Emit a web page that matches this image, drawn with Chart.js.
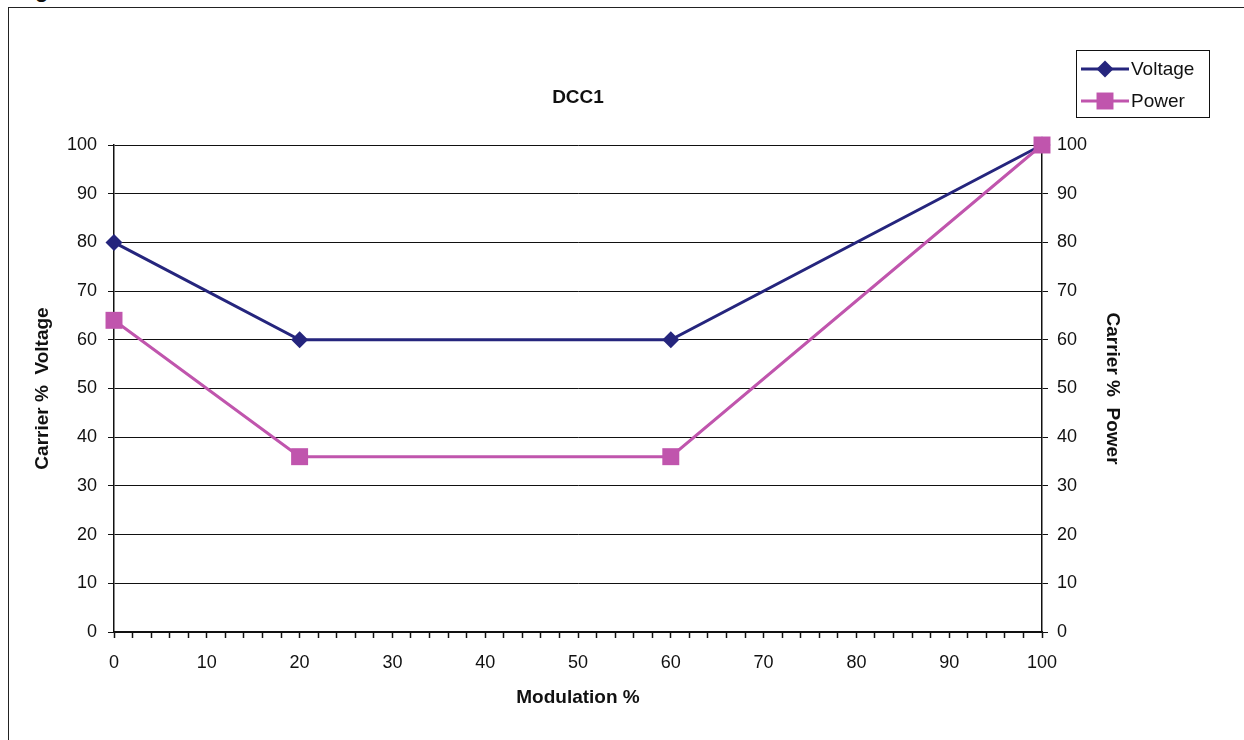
<!DOCTYPE html>
<html>
<head>
<meta charset="utf-8">
<script src="https://cdn.jsdelivr.net/npm/chart.js@4"></script>
<style>
  html, body { margin:0; padding:0; background:#fff; overflow:hidden; }
  #wrap { position:relative; width:1244px; height:740px; }
  #frame { position:absolute; left:8px; top:7px; right:0; bottom:0; border-left:1px solid #222; border-top:1px solid #222; }
  #cut { position:absolute; left:35px; top:-23px; font:bold 22px 'Liberation Sans', Arial, sans-serif; color:#111; }
  canvas { position:absolute; left:0; top:0; }
</style>
</head>
<body>
<div id="wrap">
  <div id="cut">g</div>
  <div id="frame"></div>
  <canvas id="c" width="1244" height="740"></canvas>
</div>
<script>
// chart values
const modulation = [0, 20, 60, 100];
const voltage = [80, 60, 60, 100];
const power = [64, 36, 36, 100];
const seriesNames = ['Voltage', 'Power'];
const titleText = 'DCC1';
const xTitle = 'Modulation %';
const yTitle = 'Carrier %  Voltage';
const y2Title = 'Carrier %  Power';

const FONT = "'Liberation Sans', Arial, sans-serif";
const NAVY = '#25257d';
const PINK = '#c055ad';

function pts(vals){ return modulation.map((m,i)=>({x:m, y:vals[i]})); }

// legend box drawn at a fixed spot, like the original
const boxLegend = {
  id: 'boxLegend',
  afterDraw(chart){
    const ctx = chart.ctx;
    ctx.save();
    ctx.strokeStyle = '#111';
    ctx.lineWidth = 1;
    ctx.strokeRect(1076.5, 50.5, 133, 67);
    chart.data.datasets.forEach((ds, i) => {
      const y = 69 + i * 32;
      ctx.strokeStyle = ds.borderColor;
      ctx.lineWidth = 3;
      ctx.beginPath(); ctx.moveTo(1081, y); ctx.lineTo(1129, y); ctx.stroke();
      ctx.fillStyle = ds.backgroundColor;
      Chart.helpers.drawPoint(ctx, { pointStyle: ds.pointStyle, radius: ds.pointRadius, borderWidth: 0 }, 1105, y);
      ctx.fillStyle = '#111';
      ctx.font = '19px ' + FONT;
      ctx.textBaseline = 'middle';
      ctx.fillText(ds.label, 1131, y + 1);
    });
    ctx.restore();
  }
};

new Chart(document.getElementById('c'), {
  type: 'line',
  data: {
    datasets: [
      { label: seriesNames[0], data: pts(voltage), borderColor: NAVY, backgroundColor: NAVY, order: 2,
        borderWidth: 3, pointStyle: 'rectRot', pointRadius: 8.5, pointBorderWidth: 0, yAxisID: 'y', clip: false },
      { label: seriesNames[1], data: pts(power), borderColor: PINK, backgroundColor: PINK, order: 1,
        borderWidth: 3, pointStyle: 'rect', pointRadius: 12, pointBorderWidth: 0, yAxisID: 'y', clip: false }
    ]
  },
  options: {
    responsive: false,
    animation: false,
    layout: { padding: { top: 86.6, left: 0, right: 0, bottom: 0 } },
    plugins: {
      legend: { display: false },
      tooltip: { enabled: false },
      title: { display: true, text: titleText, fullSize: false, color: '#111',
               font: { family: FONT, size: 19, weight: 'bold', lineHeight: 1.2 },
               padding: { top: 0, bottom: 35.6 } }
    },
    scales: {
      x: {
        type: 'linear', min: 0, max: 100,
        afterFit: s => { s.height = 108; },
        ticks: { stepSize: 2, autoSkip: false, maxRotation: 0, color: '#111', padding: 14,
                 font: { family: FONT, size: 18 },
                 callback: v => (v % 10 === 0 ? v : '') },
        grid: { drawOnChartArea: false, color: '#111', tickLength: 6, tickWidth: 1.5 },
        border: { color: '#111', width: 1.5 },
        title: { display: true, text: xTitle, color: '#111',
                 font: { family: FONT, size: 19, weight: 'bold', lineHeight: 1.2 },
                 padding: { top: 0, bottom: 30.6 } }
      },
      y: {
        position: 'left', min: 0, max: 100,
        afterFit: s => { s.width = 114; },
        ticks: { stepSize: 10, color: '#111', padding: 11, font: { family: FONT, size: 18 } },
        grid: { color: '#111', lineWidth: 1, tickLength: 6 },
        border: { color: '#111', width: 1.5 },
        title: { display: true, text: yTitle, color: '#111',
                 font: { family: FONT, size: 19, weight: 'bold', lineHeight: 1.2 },
                 padding: { top: 31, bottom: 0 } }
      },
      y1: {
        position: 'right', min: 0, max: 100,
        afterFit: s => { s.width = 202; },
        ticks: { stepSize: 10, color: '#111', padding: 9, font: { family: FONT, size: 18 } },
        grid: { drawOnChartArea: false, color: '#111', tickLength: 6 },
        border: { color: '#111', width: 1.5 },
        title: { display: true, text: y2Title, color: '#111',
                 font: { family: FONT, size: 19, weight: 'bold', lineHeight: 1.2 },
                 padding: { top: 120.6, bottom: 0 } }
      }
    }
  },
  plugins: [boxLegend]
});
</script>
</body>
</html>
